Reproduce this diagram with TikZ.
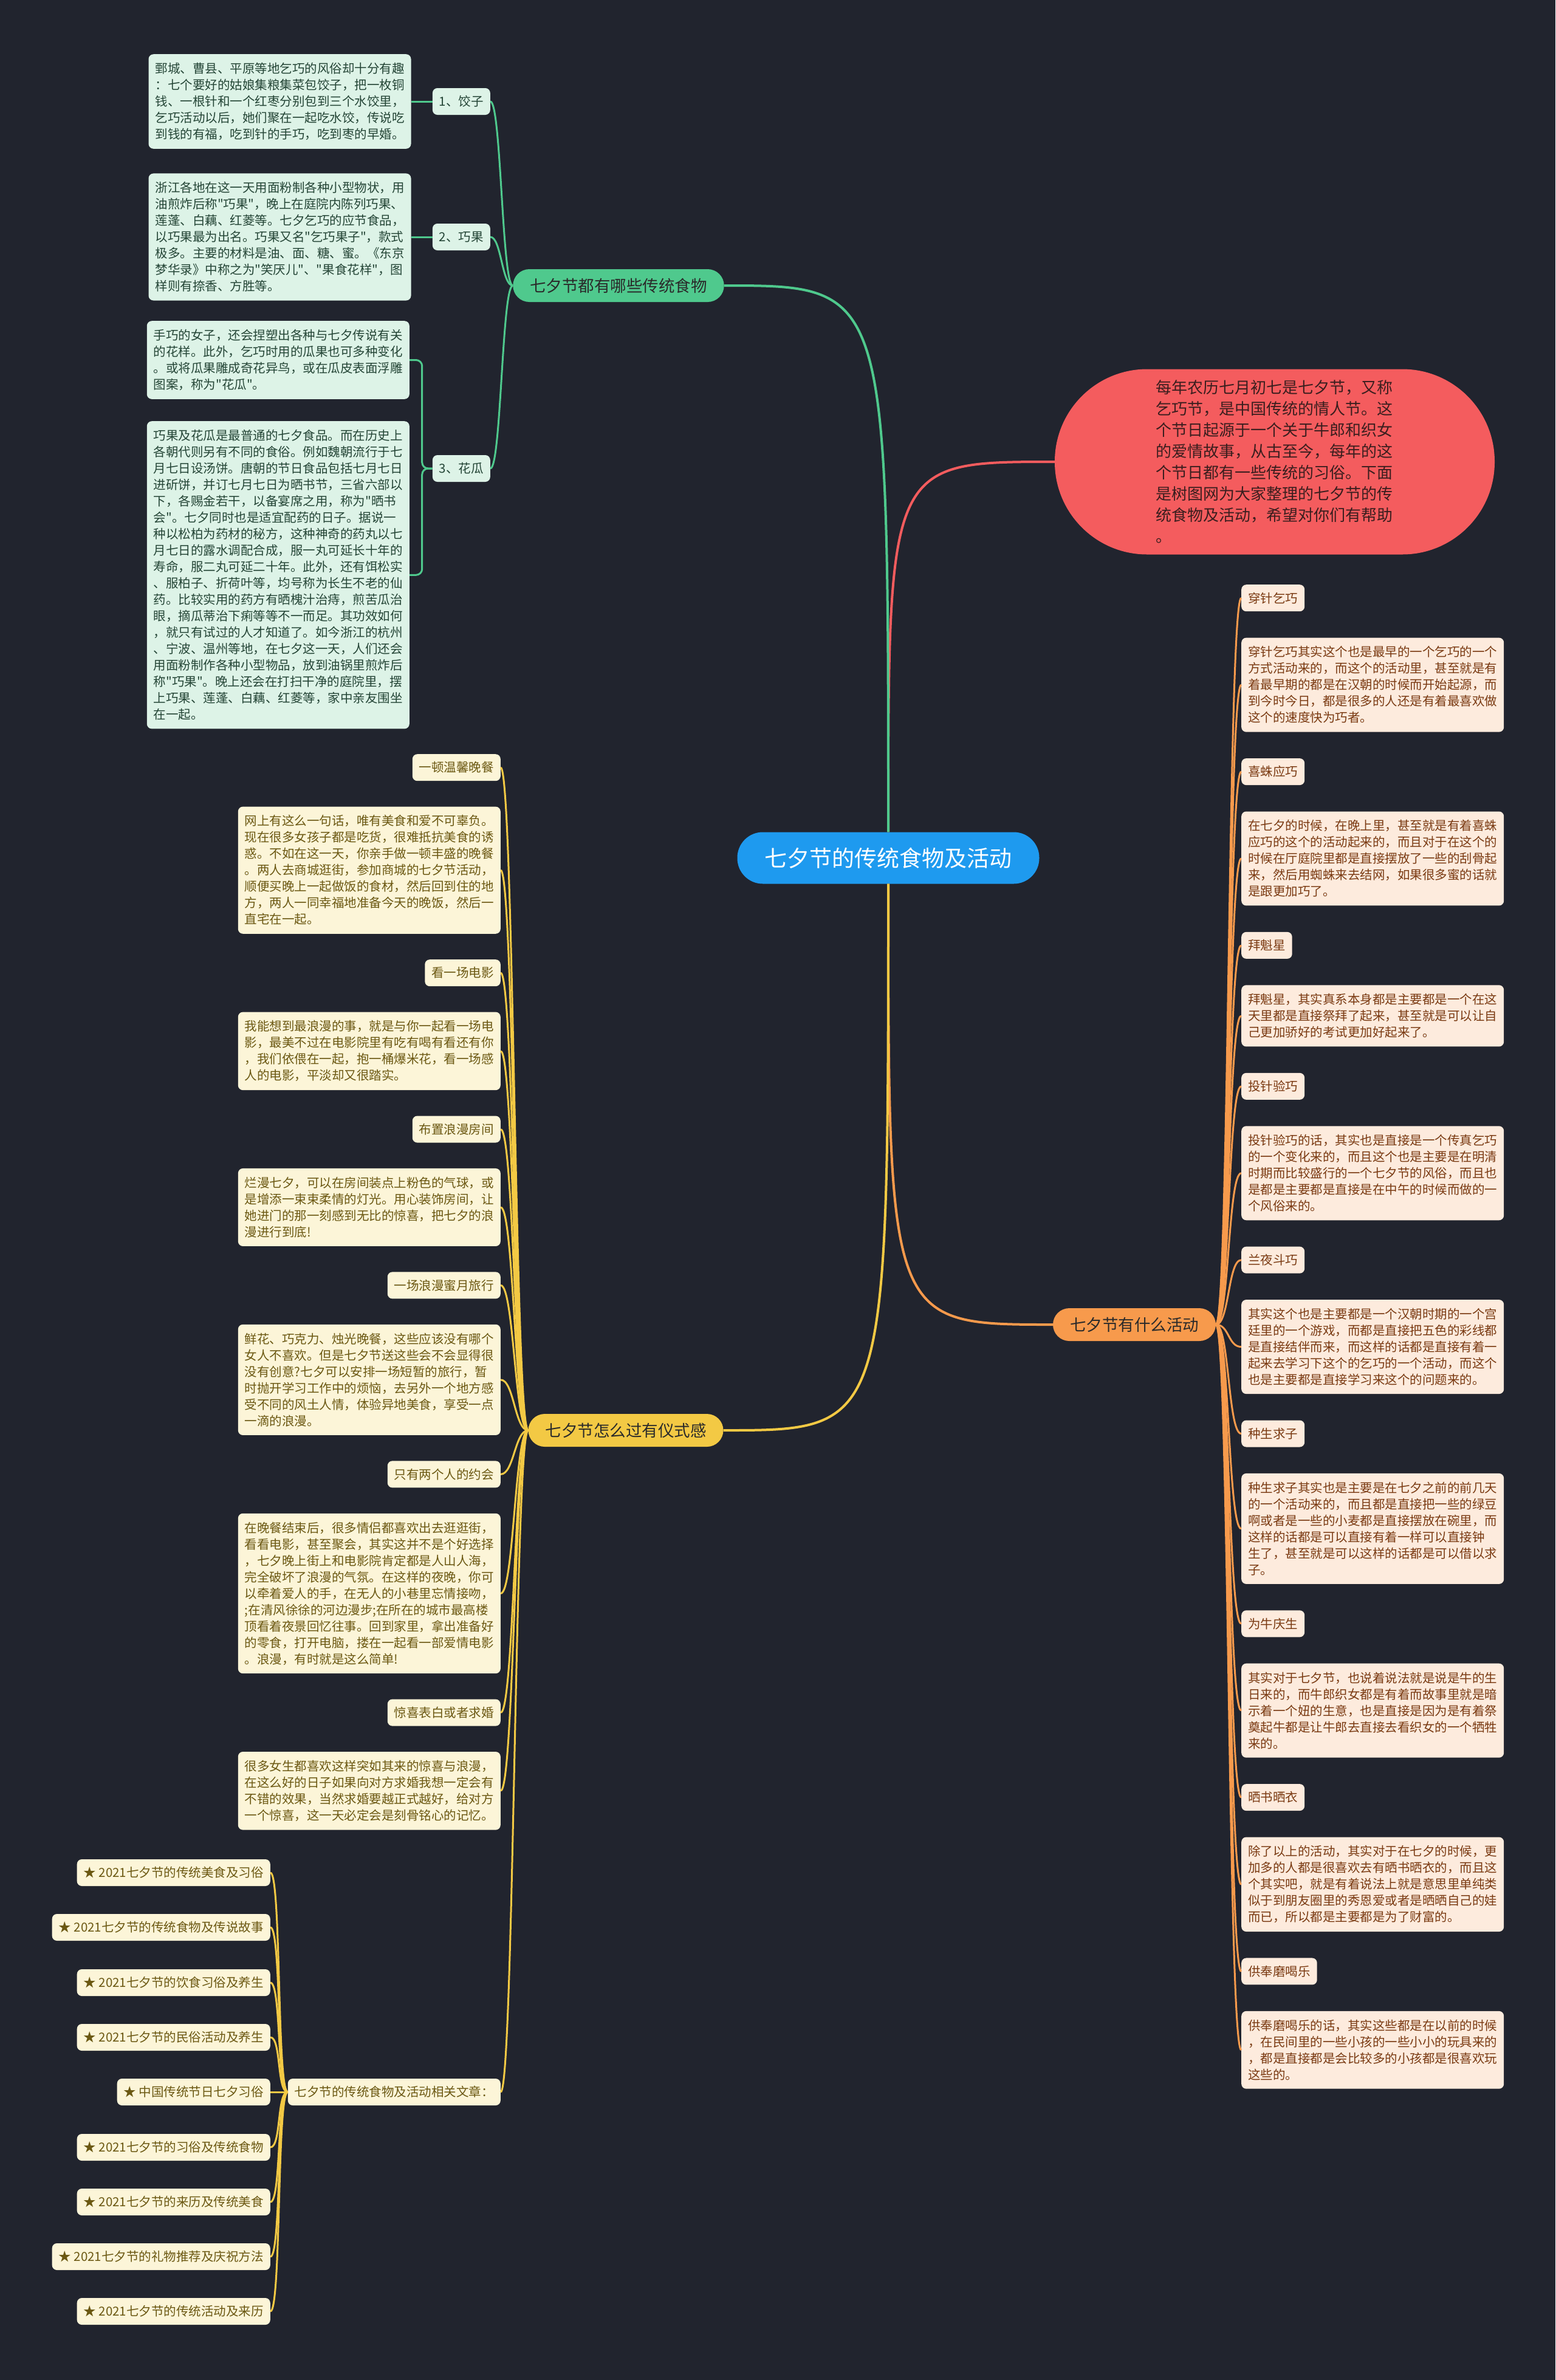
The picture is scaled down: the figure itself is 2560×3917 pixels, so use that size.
\documentclass[tikz,border=0pt]{standalone}
\usepackage{fontspec}
\newfontfamily\cjk{Noto Sans CJK SC}
\usepackage{tikz}
\usetikzlibrary{positioning}
\definecolor{SBg}{HTML}{21242E}
\definecolor{SBlue}{HTML}{1E9AEF}
\definecolor{SDark}{HTML}{2A2A2A}
\definecolor{SGreen}{HTML}{4FC98D}
\definecolor{SGreenPale}{HTML}{DDF3E7}
\definecolor{SGreenText}{HTML}{244536}
\definecolor{SRed}{HTML}{F45C5E}
\definecolor{SRedText}{HTML}{3A1E1E}
\definecolor{SOrange}{HTML}{F79A4C}
\definecolor{SOrangePale}{HTML}{FDEBDD}
\definecolor{SOrangeText}{HTML}{7A3A12}
\definecolor{SYellow}{HTML}{F3C944}
\definecolor{SYellowPale}{HTML}{FCF5D8}
\definecolor{SYellowText}{HTML}{6B5812}

\begin{document}
\begin{tikzpicture}[x=1pt,y=-1pt,node distance=43pt]
  \tikzstyle{lab}=[rounded corners=8pt,inner xsep=11pt,inner ysep=0pt,
    minimum height=44pt,font=\cjk\fontsize{20.5}{27}\selectfont]
  \tikzstyle{box}=[rounded corners=8pt,inner xsep=11pt,inner ysep=14pt,
    text width=410pt,align=left,font=\cjk\fontsize{20.5}{27}\selectfont]
  \tikzstyle{branch}=[rounded corners=27pt,minimum height=54pt,inner xsep=28pt,
    text=SDark,font=\cjk\fontsize{26.5}{30}\selectfont]
  \tikzstyle{glab}=[lab,fill=SGreenPale,text=SGreenText]
  \tikzstyle{gbox}=[box,fill=SGreenPale,text=SGreenText]
  \tikzstyle{olab}=[lab,fill=SOrangePale,text=SOrangeText]
  \tikzstyle{obox}=[box,fill=SOrangePale,text=SOrangeText]
  \tikzstyle{ylab}=[lab,fill=SYellowPale,text=SYellowText]
  \tikzstyle{ybox}=[box,fill=SYellowPale,text=SYellowText]
  \tikzstyle{gline}=[draw=SGreen,line width=3pt]
  \tikzstyle{oline}=[draw=SOrange,line width=3pt]
  \tikzstyle{yline}=[draw=SYellow,line width=3pt]

  \fill[SBg] (0,0) rectangle (2560,3917);
  \useasboundingbox (0,0) rectangle (2560,3917);

  % centre and main branches
  \node[fill=SBlue,text=white,rounded corners=42pt,minimum height=85pt,inner xsep=45pt,
    font=\cjk\fontsize{37}{40}\selectfont] (root) at (1462,1412) {七夕节的传统食物及活动};
  \node[branch,fill=SGreen] (food) at (1018,470) {七夕节都有哪些传统食物};
  \node[fill=SRed,text=SRedText,rounded corners=152pt,minimum width=724pt,minimum height=305pt,
    text width=392pt,align=left,font=\cjk\fontsize{26}{35}\selectfont] (intro) at (2098,760)
    {每年农历七月初七是七夕节，又称\\
     乞巧节，是中国传统的情人节。这\\
     个节日起源于一个关于牛郎和织女\\
     的爱情故事，从古至今，每年的这\\
     个节日都有一些传统的习俗。下面\\
     是树图网为大家整理的七夕节的传\\
     统食物及活动，希望对你们有帮助\\
     。};
  \node[branch,fill=SOrange] (act) at (1867,2180) {七夕节有什么活动};
  \node[branch,fill=SYellow] (rite) at (1030,2354) {七夕节怎么过有仪式感};

  % traditional food
  \node[glab,anchor=east] (jz) at (807,167) {1、饺子};
  \node[gbox,left=35pt of jz] (jzt)
    {鄄城、曹县、平原等地乞巧的风俗却十分有趣\\
     ：七个要好的姑娘集粮集菜包饺子，把一枚铜\\
     钱、一根针和一个红枣分别包到三个水饺里，\\
     乞巧活动以后，她们聚在一起吃水饺，传说吃\\
     到钱的有福，吃到针的手巧，吃到枣的早婚。};
  \node[glab,anchor=east] (qg) at (807,390) {2、巧果};
  \node[gbox,left=35pt of qg] (qgt)
    {浙江各地在这一天用面粉制各种小型物状，用\\
     油煎炸后称"巧果"，晚上在庭院内陈列巧果、\\
     莲蓬、白藕、红菱等。七夕乞巧的应节食品，\\
     以巧果最为出名。巧果又名"乞巧果子"，款式\\
     极多。主要的材料是油、面、糖、蜜。《东京\\
     梦华录》中称之为"笑厌儿"、"果食花样"，图\\
     样则有捺香、方胜等。};
  \node[glab,anchor=east] (hg) at (807,771) {3、花瓜};
  \node[gbox,anchor=north east] (hg1) at (674,528)
    {手巧的女子，还会捏塑出各种与七夕传说有关\\
     的花样。此外，乞巧时用的瓜果也可多种变化\\
     。或将瓜果雕成奇花异鸟，或在瓜皮表面浮雕\\
     图案，称为"花瓜"。};
  \node[gbox,below=36pt of hg1.south east,anchor=north east] (hg2)
    {巧果及花瓜是最普通的七夕食品。而在历史上\\
     各朝代则另有不同的食俗。例如魏朝流行于七\\
     月七日设汤饼。唐朝的节日食品包括七月七日\\
     进斫饼，并订七月七日为晒书节，三省六部以\\
     下，各赐金若干，以备宴席之用，称为"晒书\\
     会"。七夕同时也是适宜配药的日子。据说一\\
     种以松柏为药材的秘方，这种神奇的药丸以七\\
     月七日的露水调配合成，服一丸可延长十年的\\
     寿命，服二丸可延二十年。此外，还有饵松实\\
     、服柏子、折荷叶等，均号称为长生不老的仙\\
     药。比较实用的药方有晒槐汁治痔，煎苦瓜治\\
     眼，摘瓜蒂治下痢等等不一而足。其功效如何\\
     ，就只有试过的人才知道了。如今浙江的杭州\\
     、宁波、温州等地，在七夕这一天，人们还会\\
     用面粉制作各种小型物品，放到油锅里煎炸后\\
     称"巧果"。晚上还会在打扫干净的庭院里，摆\\
     上巧果、莲蓬、白藕、红菱等，家中亲友围坐\\
     在一起。};

  % activities
  \node[olab,anchor=north west] (o1) at (2043,962) {穿针乞巧};
  \node[obox,below=of o1.south west,anchor=north west] (o2)
    {穿针乞巧其实这个也是最早的一个乞巧的一个\\
     方式活动来的，而这个的活动里，甚至就是有\\
     着最早期的都是在汉朝的时候而开始起源，而\\
     到今时今日，都是很多的人还是有着最喜欢做\\
     这个的速度快为巧者。};
  \node[olab,below=of o2.south west,anchor=north west] (o3) {喜蛛应巧};
  \node[obox,below=of o3.south west,anchor=north west] (o4)
    {在七夕的时候，在晚上里，甚至就是有着喜蛛\\
     应巧的这个的活动起来的，而且对于在这个的\\
     时候在厅庭院里都是直接摆放了一些的刮骨起\\
     来，然后用蜘蛛来去结网，如果很多蜜的话就\\
     是跟更加巧了。};
  \node[olab,below=of o4.south west,anchor=north west] (o5) {拜魁星};
  \node[obox,below=of o5.south west,anchor=north west] (o6)
    {拜魁星，其实真系本身都是主要都是一个在这\\
     天里都是直接祭拜了起来，甚至就是可以让自\\
     己更加骄好的考试更加好起来了。};
  \node[olab,below=of o6.south west,anchor=north west] (o7) {投针验巧};
  \node[obox,below=of o7.south west,anchor=north west] (o8)
    {投针验巧的话，其实也是直接是一个传真乞巧\\
     的一个变化来的，而且这个也是主要是在明清\\
     时期而比较盛行的一个七夕节的风俗，而且也\\
     是都是主要都是直接是在中午的时候而做的一\\
     个风俗来的。};
  \node[olab,below=of o8.south west,anchor=north west] (o9) {兰夜斗巧};
  \node[obox,below=of o9.south west,anchor=north west] (o10)
    {其实这个也是主要都是一个汉朝时期的一个宫\\
     廷里的一个游戏，而都是直接把五色的彩线都\\
     是直接结伴而来，而这样的话都是直接有着一\\
     起来去学习下这个的乞巧的一个活动，而这个\\
     也是主要都是直接学习来这个的问题来的。};
  \node[olab,below=of o10.south west,anchor=north west] (o11) {种生求子};
  \node[obox,below=of o11.south west,anchor=north west] (o12)
    {种生求子其实也是主要是在七夕之前的前几天\\
     的一个活动来的，而且都是直接把一些的绿豆\\
     啊或者是一些的小麦都是直接摆放在碗里，而\\
     这样的话都是可以直接有着一样可以直接钟\\
     生了，甚至就是可以这样的话都是可以借以求\\
     子。};
  \node[olab,below=of o12.south west,anchor=north west] (o13) {为牛庆生};
  \node[obox,below=of o13.south west,anchor=north west] (o14)
    {其实对于七夕节，也说着说法就是说是牛的生\\
     日来的，而牛郎织女都是有着而故事里就是暗\\
     示着一个妞的生意，也是直接是因为是有着祭\\
     奠起牛都是让牛郎去直接去看织女的一个牺牲\\
     来的。};
  \node[olab,below=of o14.south west,anchor=north west] (o15) {晒书晒衣};
  \node[obox,below=of o15.south west,anchor=north west] (o16)
    {除了以上的活动，其实对于在七夕的时候，更\\
     加多的人都是很喜欢去有晒书晒衣的，而且这\\
     个其实吧，就是有着说法上就是意思里单纯类\\
     似于到朋友圈里的秀恩爱或者是晒晒自己的娃\\
     而已，所以都是主要都是为了财富的。};
  \node[olab,below=of o16.south west,anchor=north west] (o17) {供奉磨喝乐};
  \node[obox,below=of o17.south west,anchor=north west] (o18)
    {供奉磨喝乐的话，其实这些都是在以前的时候\\
     ，在民间里的一些小孩的一些小小的玩具来的\\
     ，都是直接都是会比较多的小孩都是很喜欢玩\\
     这些的。};

  % ritual
  \node[ylab,anchor=north east] (y1) at (824,1241) {一顿温馨晚餐};
  \node[ybox,below=42pt of y1.south east,anchor=north east] (y2)
    {网上有这么一句话，唯有美食和爱不可辜负。\\
     现在很多女孩子都是吃货，很难抵抗美食的诱\\
     惑。不如在这一天，你亲手做一顿丰盛的晚餐\\
     。两人去商城逛街，参加商城的七夕节活动，\\
     顺便买晚上一起做饭的食材，然后回到住的地\\
     方，两人一同幸福地准备今天的晚饭，然后一\\
     直宅在一起。};
  \node[ylab,below=42pt of y2.south east,anchor=north east] (y3) {看一场电影};
  \node[ybox,below=42pt of y3.south east,anchor=north east] (y4)
    {我能想到最浪漫的事，就是与你一起看一场电\\
     影，最美不过在电影院里有吃有喝有看还有你\\
     ，我们依偎在一起，抱一桶爆米花，看一场感\\
     人的电影，平淡却又很踏实。};
  \node[ylab,below=42pt of y4.south east,anchor=north east] (y5) {布置浪漫房间};
  \node[ybox,below=42pt of y5.south east,anchor=north east] (y6)
    {烂漫七夕，可以在房间装点上粉色的气球，或\\
     是增添一束束柔情的灯光。用心装饰房间，让\\
     她进门的那一刻感到无比的惊喜，把七夕的浪\\
     漫进行到底!};
  \node[ylab,below=42pt of y6.south east,anchor=north east] (y7) {一场浪漫蜜月旅行};
  \node[ybox,below=42pt of y7.south east,anchor=north east] (y8)
    {鲜花、巧克力、烛光晚餐，这些应该没有哪个\\
     女人不喜欢。但是七夕节送这些会不会显得很\\
     没有创意?七夕可以安排一场短暂的旅行，暂\\
     时抛开学习工作中的烦恼，去另外一个地方感\\
     受不同的风土人情，体验异地美食，享受一点\\
     一滴的浪漫。};
  \node[ylab,below=42pt of y8.south east,anchor=north east] (y9) {只有两个人的约会};
  \node[ybox,below=42pt of y9.south east,anchor=north east] (y10)
    {在晚餐结束后，很多情侣都喜欢出去逛逛街，\\
     看看电影，甚至聚会，其实这并不是个好选择\\
     ，七夕晚上街上和电影院肯定都是人山人海，\\
     完全破坏了浪漫的气氛。在这样的夜晚，你可\\
     以牵着爱人的手，在无人的小巷里忘情接吻，\\
     ;在清风徐徐的河边漫步;在所在的城市最高楼\\
     顶看着夜景回忆往事。回到家里，拿出准备好\\
     的零食，打开电脑，搂在一起看一部爱情电影\\
     。浪漫，有时就是这么简单!};
  \node[ylab,below=42pt of y10.south east,anchor=north east] (y11) {惊喜表白或者求婚};
  \node[ybox,below=42pt of y11.south east,anchor=north east] (y12)
    {很多女生都喜欢这样突如其来的惊喜与浪漫，\\
     在这么好的日子如果向对方求婚我想一定会有\\
     不错的效果，当然求婚要越正式越好，给对方\\
     一个惊喜，这一天必定会是刻骨铭心的记忆。};
  \node[ylab,anchor=east] (art) at (824,3443) {七夕节的传统食物及活动相关文章：};
  \node[ylab,anchor=east] (s1) at (445,3082) {★ 2021七夕节的传统美食及习俗};
  \node[ylab,anchor=east] (s2) at (445,3172) {★ 2021七夕节的传统食物及传说故事};
  \node[ylab,anchor=east] (s3) at (445,3263) {★ 2021七夕节的饮食习俗及养生};
  \node[ylab,anchor=east] (s4) at (445,3353) {★ 2021七夕节的民俗活动及养生};
  \node[ylab,anchor=east] (s5) at (445,3443) {★ 中国传统节日七夕习俗};
  \node[ylab,anchor=east] (s6) at (445,3534) {★ 2021七夕节的习俗及传统食物};
  \node[ylab,anchor=east] (s7) at (445,3624) {★ 2021七夕节的来历及传统美食};
  \node[ylab,anchor=east] (s8) at (445,3714) {★ 2021七夕节的礼物推荐及庆祝方法};
  \node[ylab,anchor=east] (s9) at (445,3804) {★ 2021七夕节的传统活动及来历};

  % connectors from the centre
  \draw[draw=SRed,line width=4pt] (root.north) .. controls (root.north |- intro.west) .. (intro.west);
  \draw[gline,line width=4pt] (root.north) .. controls (root.north |- food.east) .. (food.east);
  \draw[oline,line width=4pt] (root.south) .. controls (root.south |- act.west) .. (act.west);
  \draw[yline,line width=4pt] (root.south) .. controls (root.south |- rite.east) .. (rite.east);

  \draw[gline] (food.west) .. controls +(-18,0) and +(18,0) .. (jz.east);
  \draw[gline] (food.west) .. controls +(-18,0) and +(18,0) .. (qg.east);
  \draw[gline] (food.west) .. controls +(-18,0) and +(18,0) .. (hg.east);
  \draw[gline] (jz.west) -- (jzt.east);
  \draw[gline] (qg.west) -- (qgt.east);
  \draw[gline,rounded corners=10pt] (hg.west) -- ++(-17,0) |- (hg1.east);
  \draw[gline,rounded corners=10pt] (hg.west) -- ++(-17,0) |- (hg2.east);

  \draw[oline] (act.east) .. controls +(22,0) and +(-22,0) .. (o1.west);
  \draw[oline] (act.east) .. controls +(22,0) and +(-22,0) .. (o2.west);
  \draw[oline] (act.east) .. controls +(22,0) and +(-22,0) .. (o3.west);
  \draw[oline] (act.east) .. controls +(22,0) and +(-22,0) .. (o4.west);
  \draw[oline] (act.east) .. controls +(22,0) and +(-22,0) .. (o5.west);
  \draw[oline] (act.east) .. controls +(22,0) and +(-22,0) .. (o6.west);
  \draw[oline] (act.east) .. controls +(22,0) and +(-22,0) .. (o7.west);
  \draw[oline] (act.east) .. controls +(22,0) and +(-22,0) .. (o8.west);
  \draw[oline] (act.east) .. controls +(22,0) and +(-22,0) .. (o9.west);
  \draw[oline] (act.east) .. controls +(22,0) and +(-22,0) .. (o10.west);
  \draw[oline] (act.east) .. controls +(22,0) and +(-22,0) .. (o11.west);
  \draw[oline] (act.east) .. controls +(22,0) and +(-22,0) .. (o12.west);
  \draw[oline] (act.east) .. controls +(22,0) and +(-22,0) .. (o13.west);
  \draw[oline] (act.east) .. controls +(22,0) and +(-22,0) .. (o14.west);
  \draw[oline] (act.east) .. controls +(22,0) and +(-22,0) .. (o15.west);
  \draw[oline] (act.east) .. controls +(22,0) and +(-22,0) .. (o16.west);
  \draw[oline] (act.east) .. controls +(22,0) and +(-22,0) .. (o17.west);
  \draw[oline] (act.east) .. controls +(22,0) and +(-22,0) .. (o18.west);

  \draw[yline] (rite.west) .. controls +(-22,0) and +(22,0) .. (y1.east);
  \draw[yline] (rite.west) .. controls +(-22,0) and +(22,0) .. (y2.east);
  \draw[yline] (rite.west) .. controls +(-22,0) and +(22,0) .. (y3.east);
  \draw[yline] (rite.west) .. controls +(-22,0) and +(22,0) .. (y4.east);
  \draw[yline] (rite.west) .. controls +(-22,0) and +(22,0) .. (y5.east);
  \draw[yline] (rite.west) .. controls +(-22,0) and +(22,0) .. (y6.east);
  \draw[yline] (rite.west) .. controls +(-22,0) and +(22,0) .. (y7.east);
  \draw[yline] (rite.west) .. controls +(-22,0) and +(22,0) .. (y8.east);
  \draw[yline] (rite.west) .. controls +(-22,0) and +(22,0) .. (y9.east);
  \draw[yline] (rite.west) .. controls +(-22,0) and +(22,0) .. (y10.east);
  \draw[yline] (rite.west) .. controls +(-22,0) and +(22,0) .. (y11.east);
  \draw[yline] (rite.west) .. controls +(-22,0) and +(22,0) .. (y12.east);
  \draw[yline] (rite.west) .. controls +(-22,0) and +(22,0) .. (art.east);

  \draw[yline] (art.west) .. controls +(-18,0) and +(18,0) .. (s1.east);
  \draw[yline] (art.west) .. controls +(-18,0) and +(18,0) .. (s2.east);
  \draw[yline] (art.west) .. controls +(-18,0) and +(18,0) .. (s3.east);
  \draw[yline] (art.west) .. controls +(-18,0) and +(18,0) .. (s4.east);
  \draw[yline] (art.west) -- (s5.east);
  \draw[yline] (art.west) .. controls +(-18,0) and +(18,0) .. (s6.east);
  \draw[yline] (art.west) .. controls +(-18,0) and +(18,0) .. (s7.east);
  \draw[yline] (art.west) .. controls +(-18,0) and +(18,0) .. (s8.east);
  \draw[yline] (art.west) .. controls +(-18,0) and +(18,0) .. (s9.east);
\end{tikzpicture}
\end{document}
